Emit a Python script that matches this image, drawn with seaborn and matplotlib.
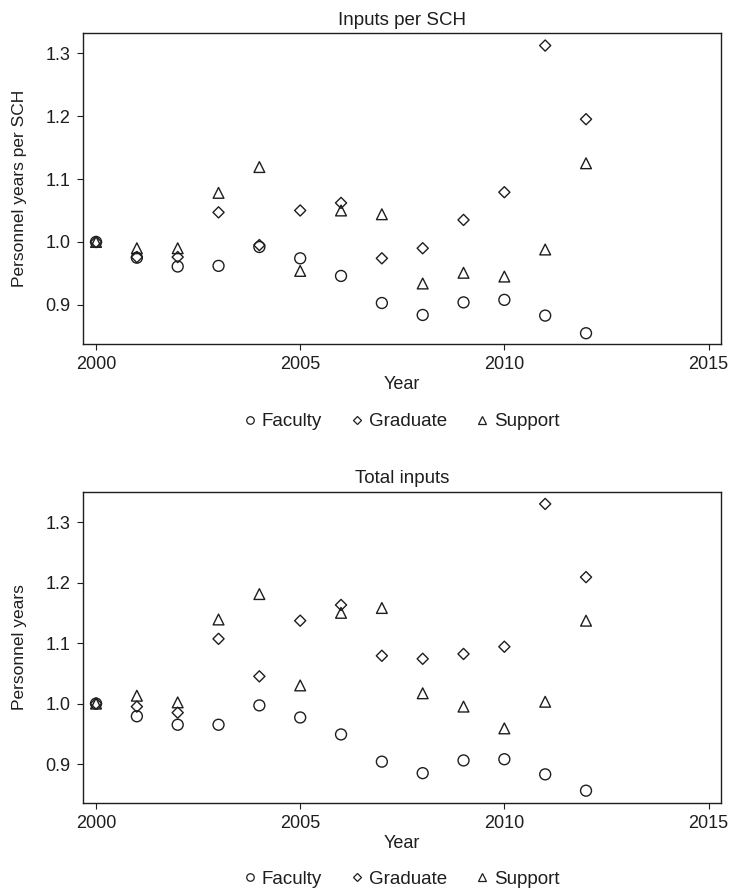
import matplotlib
matplotlib.use("Agg")
import matplotlib.pyplot as plt
from matplotlib.lines import Line2D
import numpy as np
import pandas as pd
import seaborn as sns

# Years and relative personnel measures (2000 = 1.0)
years = list(range(2000, 2013))

sch_faculty = [1.000, 0.975, 0.961, 0.962, 0.992, 0.974, 0.946, 0.903, 0.884, 0.904, 0.908, 0.883, 0.855]
sch_graduate = [1.000, 0.976, 0.976, 1.047, 0.995, 1.050, 1.062, 0.974, 0.990, 1.035, 1.079, 1.312, 1.195]
sch_support = [1.000, 0.990, 0.990, 1.078, 1.119, 0.954, 1.050, 1.044, 0.934, 0.951, 0.945, 0.988, 1.125]

tot_faculty = [1.000, 0.979, 0.965, 0.965, 0.997, 0.977, 0.949, 0.904, 0.885, 0.906, 0.908, 0.883, 0.856]
tot_graduate = [1.000, 0.995, 0.985, 1.107, 1.045, 1.137, 1.163, 1.079, 1.074, 1.082, 1.094, 1.330, 1.209]
tot_support = [1.000, 1.013, 1.002, 1.139, 1.181, 1.030, 1.150, 1.158, 1.017, 0.995, 0.959, 1.003, 1.137]

series_names = ["Faculty", "Graduate", "Support"]
x_ticks = [2000, 2005, 2010, 2015]
y_ticks = [0.9, 1.0, 1.1, 1.2, 1.3]

panel_titles = ["Inputs per SCH", "Total inputs"]
panel_ylabels = ["Personnel years per SCH", "Personnel years"]


def to_long(faculty, graduate, support):
    frames = []
    for name, vals in zip(series_names, [faculty, graduate, support]):
        frames.append(pd.DataFrame({"Year": years, "Value": vals, "Series": name}))
    return pd.concat(frames, ignore_index=True)


panels = [to_long(sch_faculty, sch_graduate, sch_support),
          to_long(tot_faculty, tot_graduate, tot_support)]

sns.set_style("ticks")
plt.rcParams["font.family"] = ["Liberation Sans", "DejaVu Sans"]
ink = "#1e1e1e"
plt.rcParams["axes.edgecolor"] = ink
plt.rcParams["axes.linewidth"] = 1.0
plt.rcParams["xtick.color"] = ink
plt.rcParams["ytick.color"] = ink
plt.rcParams["text.color"] = ink
plt.rcParams["axes.labelcolor"] = ink

marker_style = {"Faculty": ("o", 62), "Graduate": ("D", 32), "Support": ("^", 60)}
legend_size = {"Faculty": 5.4, "Graduate": 4.2, "Support": 5.6}

fig = plt.figure(figsize=(7.31, 8.91), dpi=100)
ax_top = fig.add_axes([0.1135, 0.614, 0.8725, 0.349])
ax_bot = fig.add_axes([0.1135, 0.099, 0.8725, 0.349])
ylims = [(0.838, 1.332), (0.836, 1.350)]
legend_y = [0.5265, 0.0135]

for ax, df, title, ylabel, ylim, ly in zip([ax_top, ax_bot], panels, panel_titles,
                                           panel_ylabels, ylims, legend_y):
    for name in series_names:
        mk, sz = marker_style[name]
        sns.scatterplot(data=df[df["Series"] == name], x="Year", y="Value", ax=ax,
                        marker=mk, s=sz, color=ink, facecolor="none",
                        edgecolor=ink, linewidth=1.0, legend=False)
    ax.set_xlim(1999.68, 2015.3)
    ax.set_ylim(*ylim)
    ax.set_xticks(x_ticks)
    ax.set_xticklabels([str(t) for t in x_ticks])
    ax.set_yticks(y_ticks)
    ax.set_yticklabels([f"{t:.1f}" for t in y_ticks])
    ax.tick_params(axis="both", labelsize=13, length=4.5, width=0.8,
                   direction="out", pad=4.5)
    ax.set_title(title, fontsize=13.5, pad=6)
    ax.set_xlabel("Year", fontsize=13)
    ax.set_ylabel(ylabel, fontsize=12.5)
    ax.xaxis.set_label_coords(0.5, -0.102)
    ax.yaxis.set_label_coords(-0.088, 0.5)
    for sp in ax.spines.values():
        sp.set_visible(True)

    handles = [Line2D([], [], linestyle="none", marker=marker_style[n][0],
                      markersize=legend_size[n], markerfacecolor="none",
                      markeredgecolor=ink, markeredgewidth=0.9)
               for n in series_names]
    fig.legend(handles, series_names, loc="center", bbox_to_anchor=(0.549, ly),
               ncol=3, frameon=False, fontsize=13.5, handlelength=0.7,
               handletextpad=0.3, columnspacing=1.5)

fig.savefig("out.png", dpi=100)
